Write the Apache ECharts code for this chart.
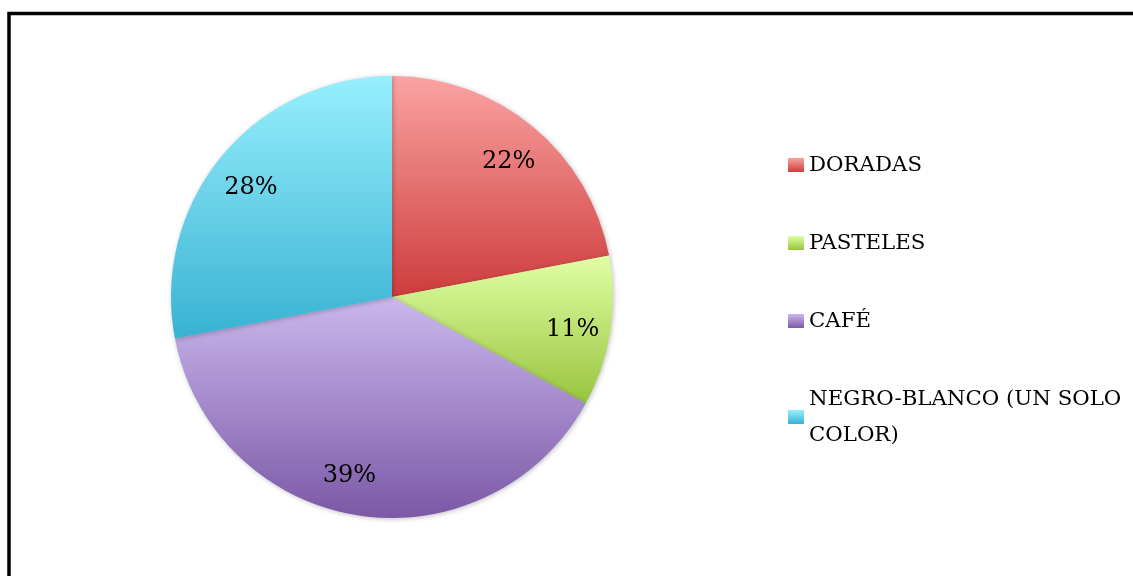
<!doctype html>
<html>
<head>
<meta charset="UTF-8">
<title>Colores</title>
<script src="https://cdn.jsdelivr.net/npm/echarts@6/dist/echarts.min.js"></script>
<style>
  html, body { margin: 0; padding: 0; background: #fff; }
  #main { width: 1133px; height: 576px; }
</style>
</head>
<body>
<div id="main"></div>
<script>
// datos del grafico
var categorias = ['DORADAS', 'PASTELES', 'CAFÉ', 'NEGRO-BLANCO (UN SOLO COLOR)'];
var valores = [22, 11, 39, 28];
// colores degradados (arriba, abajo)
var coloresArriba = ['#fba3a3', '#e0ffa4', '#cab8ee', '#98effd'];
var coloresAbajo = ['#cd3c3c', '#98c43e', '#7c58a6', '#38b2d2'];
// pequeño ajuste de las etiquetas como en el original
var desplazEtiquetas = [[0, 6], [0, 4], [-14, -2], [0, 7]];

var myChart = echarts.init(document.getElementById('main'));

function degradado(i) {
    return new echarts.graphic.LinearGradient(0, 0, 0, 1, [
        { offset: 0, color: coloresArriba[i] },
        { offset: 1, color: coloresAbajo[i] }
    ]);
}

var datosPie = categorias.map(function (c, i) {
    return { name: c, value: valores[i], itemStyle: { color: degradado(i) } };
});
var datosEtiquetas = categorias.map(function (c, i) {
    return { name: c, value: valores[i], label: { offset: desplazEtiquetas[i] } };
});
var datosLeyenda = categorias.map(function (c, i) {
    var pad = i === categorias.length - 1 ? [72, 0, 0, 0] : [36, 0, 36, 0];
    return { name: c, textStyle: { padding: pad } };
});

var option = {
    animation: false,
    graphic: [{
        type: 'rect',
        shape: { x: 9, y: 13.5, width: 1300, height: 800 },
        style: { fill: 'none', stroke: '#000', lineWidth: 3.5 },
        z: 100
    }],
    legend: {
        orient: 'vertical',
        left: 788,
        top: 111,
        padding: 0,
        itemWidth: 16,
        itemHeight: 14,
        itemGap: -30,
        icon: 'rect',
        data: datosLeyenda,
        formatter: function (name) {
            return name.replace(' COLOR)', '\nCOLOR)');
        },
        textStyle: {
            fontFamily: 'DejaVu Serif',
            fontSize: 21.3,
            color: '#000',
            lineHeight: 36
        }
    },
    series: [
        {
            type: 'pie',
            center: [392, 297],
            radius: 221,
            startAngle: 90,
            clockwise: true,
            label: { show: false },
            labelLine: { show: false },
            emphasis: { disabled: true },
            itemStyle: {
                borderWidth: 0,
                shadowBlur: 5,
                shadowColor: 'rgba(0,0,0,0.25)',
                shadowOffsetX: 1,
                shadowOffsetY: 1
            },
            data: datosPie
        },
        {
            // serie transparente solo para colocar las etiquetas
            type: 'pie',
            center: [392, 297],
            radius: [139, 221],
            startAngle: 90,
            clockwise: true,
            silent: true,
            itemStyle: { color: 'rgba(0,0,0,0)' },
            label: {
                show: true,
                position: 'inside',
                formatter: '{c}%',
                fontFamily: 'DejaVu Serif',
                fontSize: 24,
                color: '#000'
            },
            labelLine: { show: false },
            emphasis: { disabled: true },
            data: datosEtiquetas
        }
    ]
};

myChart.setOption(option);
</script>
</body>
</html>
